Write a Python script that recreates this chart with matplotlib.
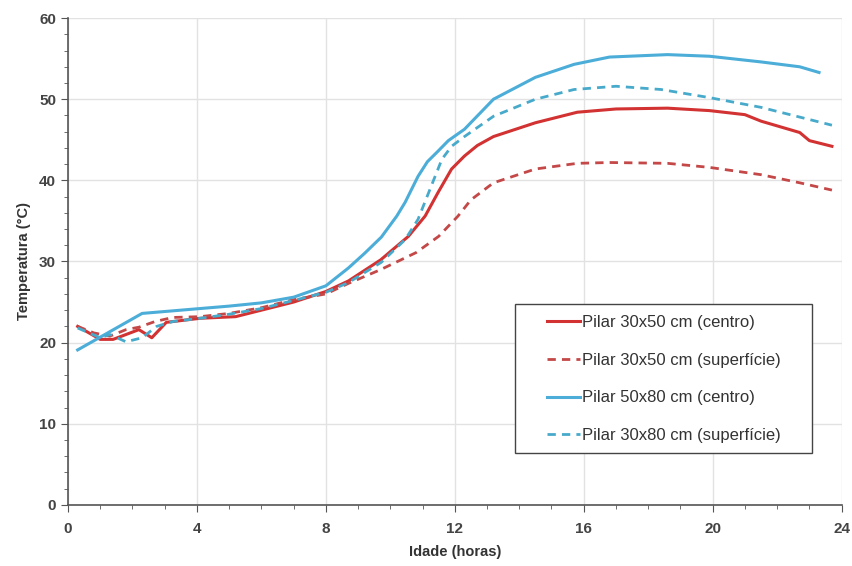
import numpy as np
import matplotlib.pyplot as plt
from matplotlib.ticker import MultipleLocator
from matplotlib.lines import Line2D
from matplotlib.legend_handler import HandlerLine2D
from matplotlib.patches import Rectangle

# idade (horas) e temperatura (°C)
x_30x50_c = [0.3, 1.0, 1.4, 2.2, 2.6, 3.05, 4.1, 5.2, 6.0, 7.0, 8.0, 8.7, 9.7, 10.56, 11.08, 11.48, 11.9, 12.3, 12.7, 13.2, 14.5, 15.8, 17.0, 18.6, 19.9, 21.0, 21.5, 22.7, 23.0, 23.7]
T_30x50_c = [22.0, 20.4, 20.4, 21.6, 20.6, 22.5, 23.0, 23.2, 24.0, 25.0, 26.3, 27.6, 30.2, 33.1, 35.6, 38.5, 41.4, 43.0, 44.3, 45.4, 47.1, 48.4, 48.8, 48.9, 48.6, 48.1, 47.3, 45.9, 44.9, 44.2]

x_30x50_s = [0.3, 0.8, 1.3, 1.8, 2.2, 2.7, 3.25, 4.1, 5.0, 6.0, 7.0, 8.0, 8.7, 9.7, 10.8, 11.5, 12.1, 12.5, 13.2, 14.5, 15.8, 16.8, 18.6, 19.9, 21.5, 22.7, 23.7]
T_30x50_s = [22.0, 21.2, 20.8, 21.6, 21.9, 22.6, 23.1, 23.2, 23.6, 24.3, 25.3, 26.0, 27.3, 29.0, 31.1, 33.1, 35.6, 37.6, 39.7, 41.4, 42.1, 42.2, 42.1, 41.6, 40.7, 39.7, 38.8]

x_50x80_c = [0.3, 2.3, 4.1, 5.0, 6.0, 7.0, 8.0, 8.7, 9.2, 9.72, 10.2, 10.46, 10.86, 11.15, 11.48, 11.8, 12.3, 13.2, 14.5, 15.7, 16.8, 18.6, 19.9, 21.5, 22.7, 23.3]
T_50x80_c = [19.1, 23.6, 24.2, 24.5, 24.9, 25.6, 27.0, 29.2, 31.0, 33.0, 35.6, 37.3, 40.5, 42.3, 43.6, 44.9, 46.3, 50.0, 52.7, 54.3, 55.2, 55.5, 55.3, 54.6, 54.0, 53.3]

x_30x80_s = [0.3, 1.0, 1.3, 1.8, 2.3, 2.75, 3.25, 4.1, 5.0, 6.0, 7.0, 8.0, 8.7, 9.72, 10.46, 10.86, 11.27, 11.6, 11.9, 12.3, 13.2, 14.5, 15.7, 17.0, 18.4, 19.9, 21.5, 22.7, 23.7]
T_30x80_s = [21.8, 20.6, 21.0, 20.1, 20.6, 22.0, 22.6, 23.0, 23.5, 24.2, 25.2, 26.2, 27.4, 29.9, 32.7, 35.2, 39.3, 42.6, 44.2, 45.4, 47.9, 50.0, 51.2, 51.6, 51.2, 50.2, 49.0, 47.8, 46.8]

plt.rcParams['font.family'] = ['Liberation Sans', 'DejaVu Sans']

fig = plt.figure(figsize=(8.52, 5.66), dpi=100)
ax = fig.add_axes([0.0798, 0.108, 0.908, 0.860])

ax.plot(x_30x50_c, T_30x50_c, color='#d23232', lw=2.2, label='Pilar 30x50 cm (centro)')
ax.plot(x_30x50_s, T_30x50_s, color='#c44848', lw=2.0, ls=(0, (3, 2.2)), label='Pilar 30x50 cm (superfície)')
ax.plot(x_50x80_c, T_50x80_c, color='#4badd8', lw=2.2, label='Pilar 50x80 cm (centro)')
ax.plot(x_30x80_s, T_30x80_s, color='#48aacb', lw=2.0, ls=(0, (3, 2.2)), label='Pilar 30x80 cm (superfície)')

ax.set_xlim(0, 24)
ax.set_ylim(0, 60)
ax.xaxis.set_major_locator(MultipleLocator(4))
ax.xaxis.set_minor_locator(MultipleLocator(1))
ax.yaxis.set_major_locator(MultipleLocator(10))
ax.yaxis.set_minor_locator(MultipleLocator(2))
ax.grid(True, which='major', color='#e2e2e2', lw=1.0)
ax.set_axisbelow(True)

for s in ['top', 'right']:
    ax.spines[s].set_visible(False)
for s in ['left', 'bottom']:
    ax.spines[s].set_color('#555555')
    ax.spines[s].set_linewidth(1.2)

ax.tick_params(which='major', length=5, color='#555555', labelsize=11, labelcolor='#444444')
ax.tick_params(axis='x', which='major', pad=7)
ax.tick_params(which='minor', length=3, color='#555555')
for lab in ax.get_xticklabels() + ax.get_yticklabels():
    lab.set_fontweight('bold')

ax.set_xlabel('Idade (horas)', fontsize=10.5, fontweight='bold', color='#333333', labelpad=7)
ax.set_ylabel('Temperatura (°C)', fontsize=10.5, fontweight='bold', color='#333333', labelpad=6)

# moldura da legenda desenhada à parte (mais larga que o conteúdo)
box = Rectangle((515 / 852, 1 - 453 / 566), 297 / 852, 149 / 566, transform=fig.transFigure,
                facecolor='white', edgecolor='#444444', lw=1.0, zorder=4, clip_on=False)
ax.add_patch(box)

leg = ax.legend(loc='upper left', bbox_to_anchor=(515 / 852, 1 - 305 / 566),
                bbox_transform=fig.transFigure, fontsize=12,
                handlelength=3.3, labelspacing=1.36, borderpad=0.6, handletextpad=0.15,
                frameon=False, borderaxespad=0,
                handler_map={Line2D: HandlerLine2D(xpad=1.3)})
leg.set_zorder(5)
for t in leg.get_texts():
    t.set_color('#333333')

fig.savefig('out.png', dpi=100)
